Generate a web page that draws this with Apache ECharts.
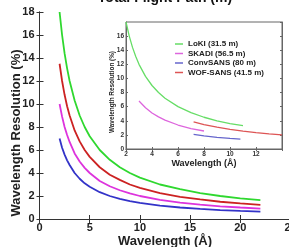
<!DOCTYPE html>
<html><head><meta charset="utf-8">
<script src="https://cdn.jsdelivr.net/npm/echarts@6/dist/echarts.min.js"></script>
<style>html,body{margin:0;padding:0;background:#fff}#c{width:289px;height:247px}</style>
</head><body><div id="c"></div>
<script>
// ---- Main plot data ----
const mainLambda  = [2, 2.25, 2.5, 2.75, 3, 3.5, 4, 4.5, 5, 6, 7, 8, 9, 10, 12, 14, 16, 18, 20, 22];
const mainGreen   = [18, 16, 14.4, 13.1, 12, 10.3, 9, 8, 7.2, 6, 5.15, 4.5, 4.0, 3.6, 3.0, 2.6, 2.25, 2.0, 1.8, 1.64];
const mainRed     = [13.5, 12, 10.8, 9.8, 9, 7.7, 6.75, 6.0, 5.4, 4.5, 3.85, 3.4, 3.0, 2.7, 2.25, 1.93, 1.7, 1.5, 1.35, 1.23];
const mainMagenta = [10, 8.9, 8, 7.3, 6.7, 5.7, 5, 4.45, 4, 3.3, 2.85, 2.5, 2.22, 2.0, 1.67, 1.43, 1.25, 1.1, 1.0, 0.91];
const mainBlue    = [7, 6.2, 5.6, 5.1, 4.7, 4.0, 3.5, 3.1, 2.8, 2.33, 2.0, 1.75, 1.56, 1.4, 1.17, 1.0, 0.88, 0.78, 0.7, 0.64];

// ---- Inset data ----
const lokiX = [2, 2.25, 2.5, 2.75, 3, 3.5, 4, 4.5, 5, 6, 7, 8, 9, 10, 11];
const lokiY = [18, 16, 14.4, 13.1, 12, 10.3, 9, 8, 7.2, 6, 5.15, 4.5, 4.0, 3.6, 3.3];
const skadiX = [3, 3.5, 4, 4.5, 5, 6, 7, 8];
const skadiY = [6.8, 5.85, 5.1, 4.55, 4.1, 3.4, 2.9, 2.55];
const convX = [7.2, 8, 9, 10, 10.8];
const convY = [2.07, 1.87, 1.66, 1.5, 1.39];
const wofX = [7.2, 8, 9, 10, 11, 12, 13, 14];
const wofY = [3.86, 3.47, 3.09, 2.78, 2.53, 2.32, 2.14, 1.99];

const legendNames = ['LoKI (31.5 m)', 'SKADI (56.5 m)', 'ConvSANS (80 m)', 'WOF-SANS (41.5 m)'];

const FONT = 'Liberation Sans, Arial, sans-serif';
const zip = (xs, ys) => xs.map((x, i) => [x, ys[i]]);

const axisLineMain = {show: true, lineStyle: {color: '#333', width: 1}};
const axisLineInset = {show: true, lineStyle: {color: '#666', width: 1}};

function mk(name, xi, yi, data, color, w) {
  return {
    name: name, type: 'line', xAxisIndex: xi, yAxisIndex: yi, data: data,
    symbol: 'none', showSymbol: false, smooth: false,
    lineStyle: {color: color, width: w}, itemStyle: {color: color},
    clip: true, z: xi >= 2 ? 5 : 2
  };
}

const chart = echarts.init(document.getElementById('c'), null, {renderer: 'canvas'});
chart.setOption({
  animation: false,
  backgroundColor: '#fff',
  grid: [
    {left: 39.5, top: 12, width: 251, height: 207, containLabel: false, outerBoundsMode: 'none', show: false},
    {left: 126, top: 22, width: 156, height: 127, containLabel: false, outerBoundsMode: 'none', show: true,
     backgroundColor: '#fff', borderColor: '#666', borderWidth: 1, z: 3}
  ],
  legend: {
    data: legendNames.map(n => ({name: n, icon: 'rect'})), orient: 'vertical', left: 175, top: 40,
    itemWidth: 8, itemHeight: 1.5, itemGap: 1.5, padding: 0,
    textStyle: {fontFamily: FONT, fontWeight: 'bold', fontSize: 8, color: '#222'},
    z: 10
  },
  xAxis: [
    {gridIndex: 0, type: 'value', min: 0, max: 25, interval: 5, position: 'bottom',
     axisLine: axisLineMain, axisTick: {inside: true, length: 4, lineStyle: {color: '#333'}},
     axisLabel: {fontFamily: FONT, fontWeight: 'bold', fontSize: 11, color: '#222', margin: 3},
     splitLine: {show: false}},
    {gridIndex: 0, type: 'value', min: 0, max: 25, interval: 5, position: 'top',
     axisLine: axisLineMain, axisTick: {inside: true, length: 4, lineStyle: {color: '#333'}},
     axisLabel: {show: false}, splitLine: {show: false}},
    {gridIndex: 1, type: 'value', min: 2, max: 14, interval: 2, position: 'bottom',
     axisLine: axisLineInset, axisTick: {inside: true, length: 2, lineStyle: {color: '#666'}},
     axisLabel: {fontFamily: FONT, fontWeight: 'bold', fontSize: 6.5, color: '#333', margin: 2,
                 formatter: v => (v === 14 ? '' : v)},
     splitLine: {show: false}, z: 4},
    {gridIndex: 1, type: 'value', min: 2, max: 14, interval: 2, position: 'top',
     axisLine: axisLineInset, axisTick: {inside: true, length: 2, lineStyle: {color: '#666'}},
     axisLabel: {show: false}, splitLine: {show: false}, z: 4}
  ],
  yAxis: [
    {gridIndex: 0, type: 'value', min: 0, max: 18, interval: 2, position: 'left',
     axisLine: axisLineMain, axisTick: {inside: true, length: 4, lineStyle: {color: '#333'}},
     axisLabel: {fontFamily: FONT, fontWeight: 'bold', fontSize: 11, color: '#222', margin: 5},
     splitLine: {show: false}},
    {gridIndex: 0, type: 'value', min: 0, max: 18, interval: 2, position: 'right',
     axisLine: axisLineMain, axisTick: {inside: true, length: 3, lineStyle: {color: '#333'}},
     axisLabel: {show: false}, splitLine: {show: false}},
    {gridIndex: 1, type: 'value', min: 0, max: 18, interval: 2, position: 'left',
     axisLine: axisLineInset, axisTick: {inside: true, length: 2, lineStyle: {color: '#666'}},
     axisLabel: {fontFamily: FONT, fontWeight: 'bold', fontSize: 6.5, color: '#333', margin: 2,
                 showMaxLabel: false, formatter: v => (v === 18 ? '' : v)},
     splitLine: {show: false}, z: 4},
    {gridIndex: 1, type: 'value', min: 0, max: 18, interval: 2, position: 'right',
     axisLine: axisLineInset, axisTick: {inside: true, length: 2, lineStyle: {color: '#666'}},
     axisLabel: {show: false}, splitLine: {show: false}, z: 4}
  ],
  graphic: [
    {type: 'text', x: 165, y: 5, z: 10,
     style: {text: 'Total Flight Path (m)', fontFamily: FONT, fontWeight: 'bold', fontSize: 14,
             fill: '#111', textAlign: 'center', textVerticalAlign: 'bottom'}},
    {type: 'text', x: 16, y: 133, rotation: Math.PI / 2, z: 10,
     style: {text: 'Wavelength Resolution (%)', fontFamily: FONT, fontWeight: 'bold', fontSize: 13,
             fill: '#222', textAlign: 'center', textVerticalAlign: 'middle'}},
    {type: 'text', x: 165, y: 241, z: 10,
     style: {text: 'Wavelength (Å)', fontFamily: FONT, fontWeight: 'bold', fontSize: 13,
             fill: '#222', textAlign: 'center', textVerticalAlign: 'middle'}},
    {type: 'text', x: 112, y: 92, rotation: Math.PI / 2, scaleX: 0.85, z: 10,
     style: {text: 'Wavelength Resolution (%)', fontFamily: FONT, fontWeight: 'bold', fontSize: 7.5,
             fill: '#222', textAlign: 'center', textVerticalAlign: 'middle'}},
    {type: 'text', x: 204, y: 164, z: 10,
     style: {text: 'Wavelength (Å)', fontFamily: FONT, fontWeight: 'bold', fontSize: 9,
             fill: '#222', textAlign: 'center', textVerticalAlign: 'middle'}}
  ],
  series: [
    mk('main-loki', 0, 0, zip(mainLambda, mainGreen), '#2fd82f', 1.8),
    mk('main-wof', 0, 0, zip(mainLambda, mainRed), '#cc2222', 1.8),
    mk('main-skadi', 0, 0, zip(mainLambda, mainMagenta), '#dd33dd', 1.8),
    mk('main-conv', 0, 0, zip(mainLambda, mainBlue), '#3333c8', 1.8),
    mk(legendNames[0], 2, 2, zip(lokiX, lokiY), '#66dd66', 1.3),
    mk(legendNames[1], 2, 2, zip(skadiX, skadiY), '#dd66dd', 1.3),
    mk(legendNames[2], 2, 2, zip(convX, convY), '#6666cc', 1.3),
    mk(legendNames[3], 2, 2, zip(wofX, wofY), '#dd5555', 1.3)
  ]
});
</script></body></html>
